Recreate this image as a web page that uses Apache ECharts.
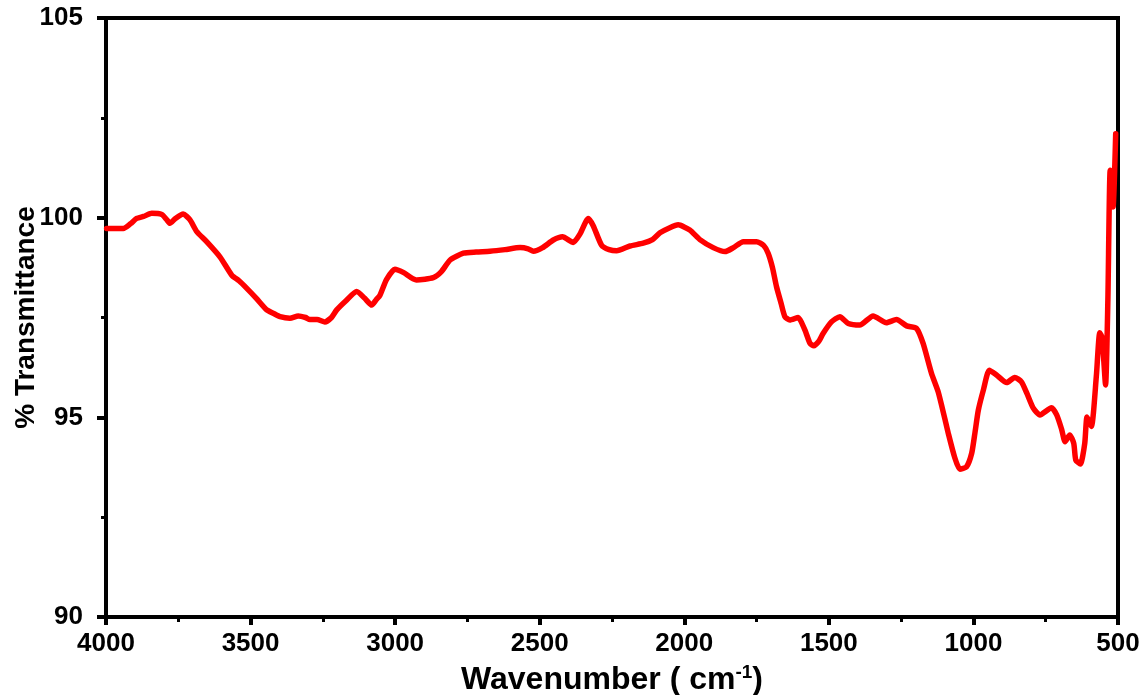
<!DOCTYPE html>
<html>
<head>
<meta charset="utf-8">
<script src="https://cdn.jsdelivr.net/npm/echarts@6/dist/echarts.min.js"></script>
<style>
  html, body { margin: 0; padding: 0; background: #fff; }
  #main { width: 1146px; height: 695px; }
</style>
</head>
<body>
<div id="main"></div>
<script>
// FTIR spectrum
var wavenumber = [3998, 3940, 3915, 3894, 3870, 3842, 3807, 3790, 3779, 3760, 3733, 3710, 3686, 3652, 3606, 3565, 3540, 3513, 3480, 3444, 3420, 3398, 3364, 3335, 3310, 3295, 3270, 3243, 3220, 3202, 3170, 3133, 3105, 3081, 3065, 3053, 3030, 3001, 2972, 2945, 2926, 2868, 2840, 2810, 2764, 2720, 2672, 2620, 2568, 2540, 2522, 2490, 2453, 2421, 2384, 2360, 2332, 2315, 2286, 2260, 2234, 2188, 2142, 2110, 2084, 2050, 2021, 1981, 1946, 1900, 1859, 1830, 1796, 1750, 1725, 1710, 1695, 1681, 1665, 1652, 1635, 1606, 1583, 1565, 1552, 1535, 1520, 1491, 1462, 1433, 1393, 1347, 1301, 1266, 1231, 1197, 1174, 1145, 1122, 1100, 1087, 1065, 1047, 1024, 1006, 995, 983, 965, 945, 920, 885, 857, 834, 815, 793, 770, 730, 712, 695, 683, 667, 653, 646, 630, 615, 607, 592, 575, 563, 555, 543, 535, 527, 517, 508];
var transmittance = [99.73, 99.73, 99.85, 99.98, 100.03, 100.11, 100.08, 99.95, 99.86, 99.98, 100.09, 99.95, 99.65, 99.40, 99.02, 98.56, 98.42, 98.23, 97.98, 97.69, 97.60, 97.52, 97.48, 97.54, 97.50, 97.45, 97.45, 97.39, 97.50, 97.69, 97.92, 98.15, 97.98, 97.81, 97.95, 98.05, 98.45, 98.71, 98.63, 98.50, 98.44, 98.50, 98.65, 98.94, 99.11, 99.14, 99.16, 99.20, 99.25, 99.22, 99.16, 99.25, 99.44, 99.52, 99.38, 99.60, 99.98, 99.80, 99.31, 99.20, 99.17, 99.29, 99.36, 99.45, 99.62, 99.75, 99.82, 99.69, 99.45, 99.25, 99.15, 99.25, 99.40, 99.40, 99.30, 99.11, 98.75, 98.27, 97.85, 97.52, 97.44, 97.50, 97.19, 96.85, 96.79, 96.90, 97.10, 97.39, 97.52, 97.35, 97.31, 97.54, 97.37, 97.45, 97.29, 97.23, 96.85, 96.10, 95.64, 95.00, 94.60, 94.00, 93.70, 93.76, 94.10, 94.60, 95.18, 95.70, 96.18, 96.06, 95.87, 96.00, 95.89, 95.60, 95.23, 95.06, 95.24, 95.06, 94.70, 94.39, 94.56, 94.35, 93.93, 93.83, 94.35, 95.01, 94.77, 96.02, 97.12, 97.00, 95.81, 97.94, 101.19, 100.27, 102.10];

var xTicks = [4000, 3500, 3000, 2500, 2000, 1500, 1000, 500];
var yTicks = [90, 95, 100, 105];

var points = wavenumber.map(function (w, i) { return [w, transmittance[i]]; });

var font = 'Liberation Sans, Arial, sans-serif';
var myChart = echarts.init(document.getElementById('main'));

var option = {
  backgroundColor: '#fff',
  animation: false,
  grid: {
    left: 106,
    right: 28,
    top: 18,
    bottom: 78,
    outerBoundsMode: 'none',
    containLabel: false,
    show: true,
    borderColor: '#000',
    borderWidth: 4
  },
  xAxis: {
    type: 'value',
    inverse: true,
    min: xTicks[xTicks.length - 1],
    max: xTicks[0],
    interval: 500,
    name: '{a|Wavenumber ( cm}{s|-1}{a|)}',
    nameLocation: 'middle',
    nameGap: 46,
    nameMoveOverlap: false,
    nameTextStyle: {
      rich: {
        a: { fontSize: 32, fontWeight: 'bold', fontFamily: font, color: '#000' },
        s: { fontSize: 19, fontWeight: 'bold', fontFamily: font, color: '#000', padding: [0, 0, 15, 0] }
      }
    },
    axisLine: { lineStyle: { color: '#000', width: 4 } },
    axisTick: { length: 8, lineStyle: { color: '#000', width: 4 } },
    minorTick: { show: true, splitNumber: 2, length: 5, lineStyle: { color: '#000', width: 3 } },
    splitLine: { show: false },
    axisLabel: {
      color: '#000',
      fontSize: 26,
      fontWeight: 'bold',
      fontFamily: font,
      margin: 14,
      formatter: function (v) { return String(v); }
    }
  },
  yAxis: {
    type: 'value',
    min: yTicks[0],
    max: yTicks[yTicks.length - 1],
    interval: 5,
    name: '% Transmittance',
    nameLocation: 'middle',
    nameGap: 66,
    nameMoveOverlap: false,
    nameTextStyle: { fontSize: 28, fontWeight: 'bold', fontFamily: font, color: '#000' },
    axisLine: { show: true, lineStyle: { color: '#000', width: 4 } },
    axisTick: { show: true, length: 9, lineStyle: { color: '#000', width: 4 } },
    minorTick: { show: true, splitNumber: 2, length: 5, lineStyle: { color: '#000', width: 3 } },
    splitLine: { show: false },
    axisLabel: {
      color: '#000',
      fontSize: 26,
      fontWeight: 'bold',
      fontFamily: font,
      margin: 23
    }
  },
  series: [{
    name: 'Transmittance',
    type: 'line',
    data: points,
    showSymbol: false,
    symbol: 'none',
    smooth: 0.2,
    lineStyle: { color: '#ff0000', width: 5.5, join: 'round', cap: 'round' }
  }]
};

myChart.setOption(option);
</script>
</body>
</html>
